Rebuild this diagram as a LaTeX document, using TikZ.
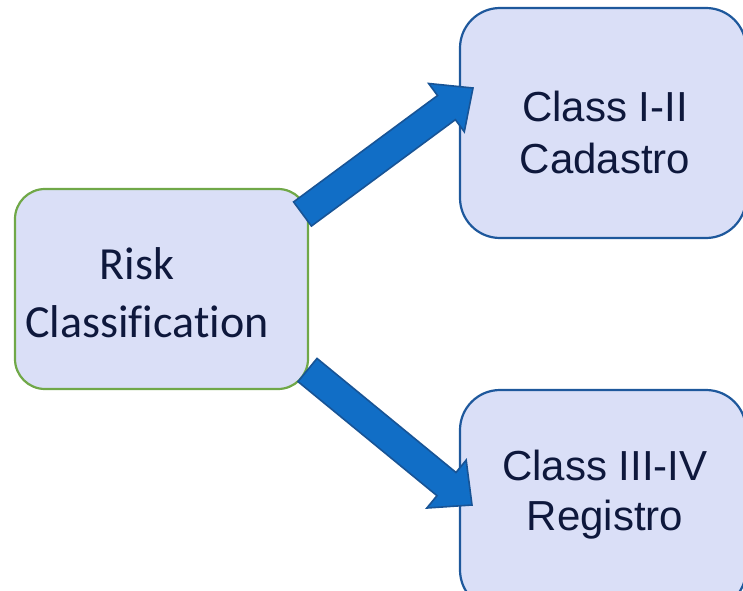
\documentclass[tikz,border=0pt]{standalone}
\usepackage{fontspec}
\setmainfont{Liberation Sans}
\newfontfamily\carlito[Ligatures=NoCommon]{Carlito}
\usetikzlibrary{calc}
\definecolor{boxfill}{RGB}{218,223,247}
\definecolor{greenline}{RGB}{112,168,72}
\definecolor{blueline}{RGB}{30,88,156}
\definecolor{arrowfill}{RGB}{17,110,198}
\definecolor{arrowline}{RGB}{24,84,150}
\definecolor{txt}{RGB}{14,24,60}
\tikzset{
  leftbox/.style={draw=greenline, line width=2.2pt, fill=boxfill, rounded corners=30pt},
  rightbox/.style={draw=blueline, line width=2.2pt, fill=boxfill, rounded corners=40pt},
  bigarrow/.style={draw=arrowline, line width=1.6pt, fill=arrowfill, line join=miter},
  ltext/.style={anchor=base, text=txt, inner sep=0pt, font=\carlito\fontsize{46}{56}\selectfont},
  rtext/.style={anchor=base, text=txt, inner sep=0pt, font=\fontsize{42}{50}\selectfont},
}
\begin{document}
\begin{tikzpicture}[x=1pt,y=1pt]
\useasboundingbox (0,0) rectangle (743,590);
\clip (0,0) rectangle (743,590);
% boxes
\draw[leftbox] (15,201) rectangle (308,401);
\draw[rightbox] (460,352) rectangle (746,582);
\draw[rightbox] (460,-20) rectangle (746,200);
% texts
\node[ltext] (risk) at (137,311) {Risk};
\node[ltext] (classif) at (147,253) {Classification};
\node[rtext] (c12) at (605,468) {Class I-II};
\node[rtext] (cad) at (605,417) {Cadastro};
\node[rtext] (c34) at (605,110) {Class III-IV};
\node[rtext] (reg) at (605,60) {Registro};
% arrows
\coordinate (t1) at (302.5,376);
\coordinate (p1) at (473,502);
\coordinate (h1) at ($(p1)!33pt!(t1)$);
\draw[bigarrow] ($(t1)!15pt!90:(p1)$) -- ($(h1)!15pt!-90:(t1)$) -- ($(h1)!30pt!-90:(t1)$) -- (p1)
  -- ($(h1)!30pt!90:(t1)$) -- ($(h1)!15pt!90:(t1)$) -- ($(t1)!15pt!-90:(p1)$) -- cycle;
\coordinate (t2) at (307.5,220);
\coordinate (p2) at (472,85);
\coordinate (h2) at ($(p2)!33pt!(t2)$);
\draw[bigarrow] ($(t2)!15pt!90:(p2)$) -- ($(h2)!15pt!-90:(t2)$) -- ($(h2)!31pt!-90:(t2)$) -- (p2)
  -- ($(h2)!31pt!90:(t2)$) -- ($(h2)!15pt!90:(t2)$) -- ($(t2)!15pt!-90:(p2)$) -- cycle;
\end{tikzpicture}
\end{document}
